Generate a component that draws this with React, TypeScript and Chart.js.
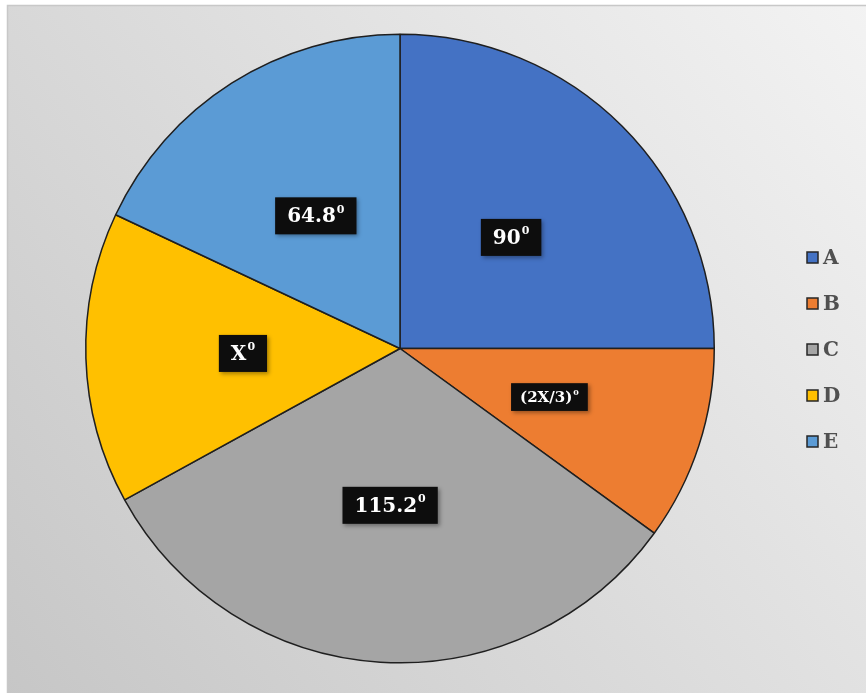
import React, { useEffect, useRef } from "react";
import { Chart, registerables } from "chart.js";

Chart.register(...registerables);

const categories = ["A", "B", "C", "D", "E"];
const angles = [90, 36, 115.2, 54, 64.8];
const sliceLabels = ["90", "(2X/3)", "115.2", "X", "64.8"];
const labelSizes = [20, 15, 20, 20, 20];
const colors = ["#4472C4", "#ED7D31", "#A5A5A5", "#FFC000", "#5B9BD5"];

const bgPlugin = {
  id: "bgPlugin",
  beforeDraw(chart: any) {
    const { ctx, width, height } = chart;
    ctx.save();
    ctx.fillStyle = "#ffffff";
    ctx.fillRect(0, 0, width, height);
    const g = ctx.createLinearGradient(width, 0, 0, height);
    g.addColorStop(0, "#f3f3f3");
    g.addColorStop(1, "#c6c6c6");
    ctx.fillStyle = g;
    ctx.fillRect(7, 5, width - 7, height - 5);
    ctx.strokeStyle = "#c8c8c8";
    ctx.lineWidth = 1.5;
    ctx.beginPath();
    ctx.moveTo(7.5, height);
    ctx.lineTo(7.5, 5.5);
    ctx.lineTo(width, 5.5);
    ctx.stroke();
    ctx.restore();
  },
};

const labelPlugin = {
  id: "labelPlugin",
  afterDatasetsDraw(chart: any) {
    const { ctx } = chart;
    const meta = chart.getDatasetMeta(0);
    ctx.save();
    meta.data.forEach((arc: any, i: number) => {
      const p = arc.tooltipPosition();
      const size = labelSizes[i];
      const main = sliceLabels[i];
      const font = `bold ${size}px "DejaVu Serif", serif`;
      const supFont = `bold ${Math.round(size * 0.55)}px "DejaVu Serif", serif`;
      ctx.font = font;
      const w1 = ctx.measureText(main).width;
      ctx.font = supFont;
      const w2 = ctx.measureText("0").width;
      const tw = w1 + w2 + 1;
      const padX = size * 0.6;
      const boxH = size * 1.85;
      const bx = p.x - tw / 2 - padX;
      const by = p.y - boxH / 2;
      ctx.shadowColor = "rgba(0,0,0,0.35)";
      ctx.shadowBlur = 4;
      ctx.shadowOffsetX = 2;
      ctx.shadowOffsetY = 2;
      ctx.fillStyle = "#0d0d0d";
      ctx.fillRect(bx, by, tw + padX * 2, boxH);
      ctx.shadowColor = "transparent";
      ctx.fillStyle = "#ffffff";
      ctx.textBaseline = "middle";
      ctx.textAlign = "left";
      ctx.font = font;
      const tx = p.x - tw / 2;
      ctx.fillText(main, tx, p.y + 1);
      ctx.font = supFont;
      ctx.fillText("0", tx + w1 + 1, p.y - size * 0.3);
    });
    ctx.restore();
  },
};

const legendPlugin = {
  id: "legendPlugin",
  afterDraw(chart: any) {
    const { ctx } = chart;
    ctx.save();
    const x0 = 807;
    const y0 = 258;
    const step = 46;
    categories.forEach((c, i) => {
      const y = y0 + i * step;
      ctx.fillStyle = colors[i];
      ctx.fillRect(x0, y - 6, 11, 11);
      ctx.strokeStyle = "#262626";
      ctx.lineWidth = 1.5;
      ctx.strokeRect(x0, y - 6, 11, 11);
      ctx.fillStyle = "#505050";
      ctx.font = `bold 20px "DejaVu Serif", serif`;
      ctx.textBaseline = "middle";
      ctx.textAlign = "left";
      ctx.fillText(c, x0 + 16, y + 1);
    });
    ctx.restore();
  },
};

export default function App() {
  const ref = useRef<HTMLCanvasElement>(null);
  useEffect(() => {
    if (!ref.current) return;
    const chart = new Chart(ref.current, {
      type: "pie",
      data: {
        labels: categories,
        datasets: [
          {
            data: angles,
            backgroundColor: colors,
            borderColor: "#1f1f1f",
            borderWidth: 1.5,
          },
        ],
      },
      options: {
        responsive: false,
        animation: false,
        layout: { padding: { left: 85, right: 151, top: 33, bottom: 29 } },
        plugins: {
          legend: { display: false },
          tooltip: { enabled: false },
        },
      },
      plugins: [bgPlugin, labelPlugin, legendPlugin],
    });
    return () => chart.destroy();
  }, []);
  return (
    <div style={{ position: "absolute", left: 0, top: 0, width: 866, height: 693 }}>
      <canvas ref={ref} width={866} height={693} style={{ display: "block" }} />
    </div>
  );
}
